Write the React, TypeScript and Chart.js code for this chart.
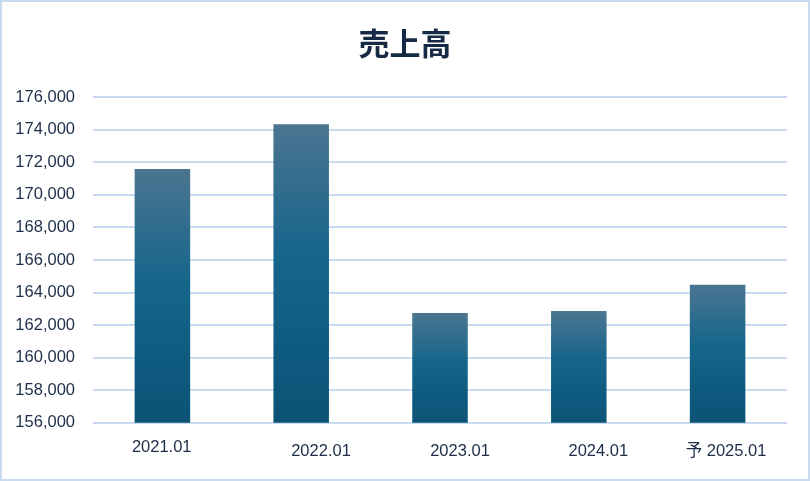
import React, { useEffect, useRef } from "react";
import { Chart, registerables } from "chart.js";

Chart.register(...registerables);

const categories = ["2021.01", "2022.01", "2023.01", "2024.01", "予 2025.01"];
const sales = [171600, 174350, 162750, 162870, 164480];
const yMin = 156000;
const yMax = 176000;
const yStep = 2000;

// style-only offsets for the category labels (px)
const labelDx = [-0.7, 19.8, 20, 19.5, 8.4];
const labelDy = [25, 29, 28.5, 28.5, 28.5];

const TEXT = "#1d2d48";
const GRID = "#c9dbf0";

const xLabelPlugin = {
  id: "xLabelPlugin",
  afterDraw(chart: any) {
    const { ctx, scales, chartArea } = chart;
    const xs = scales.x;
    ctx.save();
    ctx.fillStyle = TEXT;
    ctx.font = "16.5px 'Liberation Sans', 'Noto Sans CJK JP', sans-serif";
    ctx.textAlign = "center";
    ctx.textBaseline = "middle";
    categories.forEach((c, i) => {
      const x = xs.getPixelForValue(i) + labelDx[i];
      const y = chartArea.bottom + labelDy[i];
      ctx.fillText(c, x, y);
    });
    ctx.restore();
  },
};

export default function App() {
  const ref = useRef<HTMLCanvasElement | null>(null);

  useEffect(() => {
    document.body.style.margin = "0";
    const canvas = ref.current;
    if (!canvas) return;
    const chart = new Chart(canvas, {
      type: "bar",
      data: {
        labels: categories,
        datasets: [
          {
            label: "売上高",
            data: sales,
            barPercentage: 0.4,
            categoryPercentage: 1,
            backgroundColor: (c: any) => {
              const ch = c.chart;
              if (!ch.chartArea || c.raw == null) return "#15658a";
              const ys = ch.scales.y;
              const top = ys.getPixelForValue(c.raw);
              const bottom = ys.getPixelForValue(yMin);
              const g = ch.ctx.createLinearGradient(0, top, 0, bottom);
              g.addColorStop(0, "#4b7591");
              g.addColorStop(0.45, "#15658b");
              g.addColorStop(1, "#0a5376");
              return g;
            },
            borderWidth: 0,
          },
        ],
      },
      options: {
        animation: false,
        responsive: false,
        maintainAspectRatio: false,
        layout: { padding: { left: 0, right: 0, top: 0, bottom: 56.3 } },
        plugins: {
          legend: { display: false },
          tooltip: { enabled: false },
          title: {
            display: true,
            text: "売上高",
            color: "#172a45",
            font: { family: "'Noto Sans CJK JP', sans-serif", size: 31, weight: "bold", lineHeight: 1.2 },
            padding: { top: 22.4, bottom: 35.7 },
          },
        },
        scales: {
          x: {
            grid: { display: false, drawTicks: false },
            border: { display: false },
            ticks: { display: false },
          },
          y: {
            min: yMin,
            max: yMax,
            afterFit: (s: any) => {
              s.width = 91;
            },
            ticks: {
              stepSize: yStep,
              color: TEXT,
              padding: 18,
              font: { family: "'Liberation Sans', sans-serif", size: 16.5 },
              callback: (v: any) => Number(v).toLocaleString("en-US"),
            },
            grid: { color: GRID, lineWidth: 2, drawTicks: false },
            border: { display: false },
          },
          yRight: {
            position: "right",
            min: yMin,
            max: yMax,
            afterFit: (s: any) => {
              s.width = 21;
            },
            ticks: { display: false },
            grid: { display: false, drawTicks: false },
            border: { display: false },
          },
        },
      },
      plugins: [xLabelPlugin],
    });
    return () => chart.destroy();
  }, []);

  return (
    <div
      style={{
        width: 810,
        height: 481,
        boxSizing: "border-box",
        border: "2px solid #c9dbf0",
        background: "#ffffff",
        position: "relative",
      }}
    >
      <canvas ref={ref} width={806} height={477} style={{ display: "block", width: 806, height: 477 }} />
    </div>
  );
}
